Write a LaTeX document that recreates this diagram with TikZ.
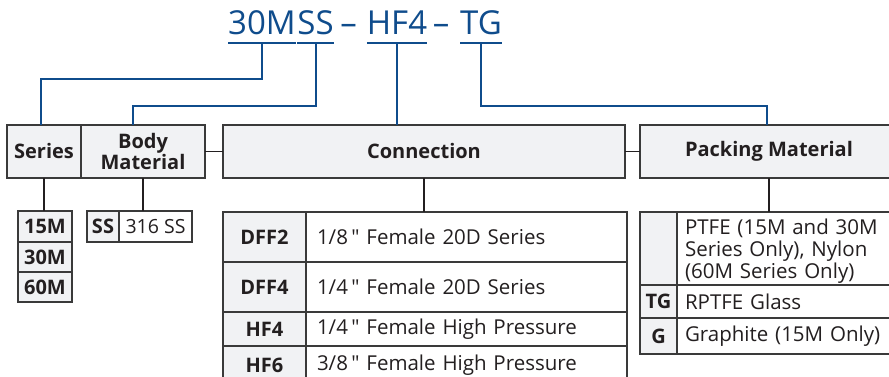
\documentclass[tikz,border=0pt]{standalone}
\usepackage{fontspec}
\setmainfont{Open Sans}
\usetikzlibrary{calc}
\definecolor{edge}{HTML}{3A3A3A}
\definecolor{boxfill}{HTML}{F1F2F4}
\definecolor{ink}{HTML}{231F20}
\definecolor{pnblue}{HTML}{0F4C8C}
\newcommand{\qq}{\,\textquotedbl}
\tikzset{
  cell/.style={draw=edge, line width=1.2pt, inner sep=0pt, outer sep=0pt, text=ink, font=\fontsize{20.5}{22}\selectfont},
  head/.style={cell, fill=boxfill, font=\fontsize{20}{21}\selectfont\bfseries, align=center},
  codecell/.style={cell, fill=boxfill, font=\fontsize{20}{22}\selectfont\bfseries},
  desccell/.style={cell, fill=white, align=left},
  link/.style={draw=ink, line width=1.2pt},
  bluelink/.style={draw=pnblue, line width=2pt},
  titletxt/.style={inner sep=0pt, outer sep=0pt, text=pnblue, font=\fontsize{33}{40}\selectfont, anchor=base}
}
\begin{document}
\begin{tikzpicture}[x=1pt,y=-1pt]
\useasboundingbox (0,0) rectangle (889,377);
\clip (0,0) rectangle (889,377);
% title
\node[titletxt] (t30m) at (262,35) {30M};
\node[titletxt] (tss) at (315.5,35) {SS};
\node[titletxt] (dash1) at (348.5,35) {–};
\node[titletxt] (thf4) at (397,35) {HF4};
\node[titletxt] (dash2) at (441,35) {–};
\node[titletxt] (ttg) at (481,35) {TG};
\draw[bluelink] ([yshift=-8pt]t30m.base west) -- ([yshift=-8pt]t30m.base east);
\draw[bluelink] ([yshift=-8pt]tss.base west) -- ([yshift=-8pt]tss.base east);
\draw[bluelink] ([yshift=-8pt]thf4.base west) -- ([yshift=-8pt]thf4.base east);
\draw[bluelink] ([yshift=-8pt]ttg.base west) -- ([yshift=-8pt]ttg.base east);
% header boxes
\node[head, minimum width=74pt, minimum height=53pt] (series) at (44,151.5) {Series};
\node[head, minimum width=124pt, minimum height=53pt] (body) at (143,151.5) {Body\\Material};
\node[head, minimum width=402pt, minimum height=53pt] (conn) at (424,151.5) {Connection};
\node[head, minimum width=258pt, minimum height=53pt] (pack) at (769,151.5) {Packing Material};
% blue links
\draw[bluelink] ([yshift=-8pt]t30m.base) -- ++(0,36) -| ($(series.north)+(-3,0)$);
\draw[bluelink] ([yshift=-8pt]tss.base) -- ++(0,63) -| ($(body.north)+(-10,0)$);
\draw[bluelink] ([yshift=-8pt]thf4.base) -- (thf4.base |- conn.north);
\draw[bluelink] ([yshift=-8pt]ttg.base) -- ++(0,63) -| ($(pack.north)+(-2,0)$);
% series table
\node[codecell, minimum width=54pt, minimum height=31pt] (s15) at (45,226.5) {15M};
\node[codecell, minimum width=54pt, minimum height=30pt] (s30) at (45,257) {30M};
\node[codecell, minimum width=54pt, minimum height=30pt] (s60) at (45,287) {60M};
% body table
\node[codecell, minimum width=32pt, minimum height=31pt] (ss) at (103,226.5) {SS};
\node[desccell, minimum width=73pt, minimum height=31pt, font=\fontsize{19.5}{22}\selectfont] (ssd) at (155.5,226.5) {316 SS};
% connection table
\node[codecell, minimum width=83pt, minimum height=50pt] (c1) at (264.5,237) {DFF2};
\node[desccell, minimum height=50pt, text width=299pt, inner xsep=11pt] (c1d) at (466.5,237) {1/8\qq{} Female 20D Series};
\node[codecell, minimum width=83pt, minimum height=50pt] (c2) at (264.5,287) {DFF4};
\node[desccell, minimum height=50pt, text width=299pt, inner xsep=11pt] (c2d) at (466.5,287) {1/4\qq{} Female 20D Series};
\node[codecell, minimum width=83pt, minimum height=34pt] (c3) at (264.5,329) {HF4};
\node[desccell, minimum height=34pt, text width=299pt, inner xsep=11pt] (c3d) at (466.5,329) {1/4\qq{} Female High Pressure};
\node[codecell, minimum width=83pt, minimum height=38pt] (c4) at (264.5,365) {HF6};
\node[desccell, minimum height=38pt, text width=299pt, inner xsep=11pt] (c4d) at (466.5,365) {3/8\qq{} Female High Pressure};
% packing table
\node[codecell, minimum width=37pt, minimum height=73pt] (p1) at (658.5,248.5) {};
\node[desccell, minimum height=73pt, text width=205pt, inner xsep=8pt, font=\fontsize{20.5}{22}\selectfont] (p1d) at (787.5,248.5) {\rule{0pt}{21pt}PTFE (15M and 30M\\Series Only), Nylon\\(60M Series Only)};
\node[codecell, minimum width=37pt, minimum height=33pt] (p2) at (658.5,301.5) {TG};
\node[desccell, minimum height=33pt, text width=205pt, inner xsep=8pt] (p2d) at (787.5,301.5) {RPTFE Glass};
\node[codecell, minimum width=37pt, minimum height=36pt] (p3) at (658.5,336) {G};
\node[desccell, minimum height=36pt, text width=205pt, inner xsep=8pt] (p3d) at (787.5,336) {Graphite (15M Only)};
% black links
\draw[link] (body.east) -- (conn.west);
\draw[link] (conn.east) -- (pack.west);
\draw[link] (series.south) -- (series.south |- s15.north);
\draw[link] (body.south) -- (body.south |- ss.north);
\draw[link] (conn.south) -- (conn.south |- c1d.north);
\draw[link] (pack.south) -- (pack.south |- p1d.north);
\end{tikzpicture}
\end{document}
